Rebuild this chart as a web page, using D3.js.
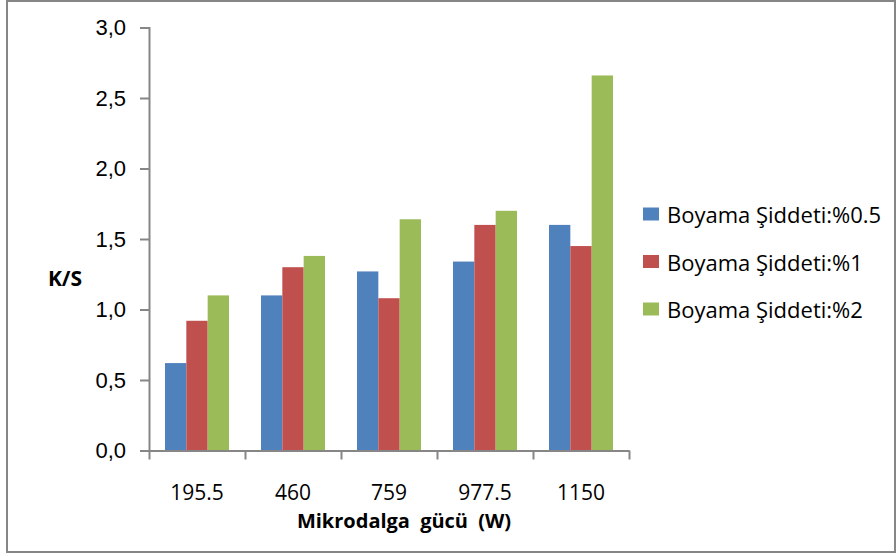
<!DOCTYPE html>
<html lang="tr">
<head>
<meta charset="UTF-8">
<title>K/S - Mikrodalga gücü</title>
<style>
  body { margin: 0; background: #fff; }
  svg { display: block; font-family: "Open Sans", "Noto Sans", sans-serif; }
</style>
</head>
<body>
<svg id="chart"></svg>
<script src="https://d3js.org/d3.v7.min.js"></script>
<script>
// chart data
const categories = ["195.5", "460", "759", "977.5", "1150"];
const seriesNames = ["Boyama Şiddeti:%0.5", "Boyama Şiddeti:%1", "Boyama Şiddeti:%2"];
const serie05 = [0.62, 1.10, 1.27, 1.34, 1.60];
const serie1 = [0.92, 1.30, 1.08, 1.60, 1.45];
const serie2 = [1.10, 1.38, 1.64, 1.70, 2.66];
const yTicks = [0, 0.5, 1.0, 1.5, 2.0, 2.5, 3.0];
const colors = ["#4F81BD", "#C0504D", "#9BBB59"];

const seriesValues = [serie05, serie1, serie2];

const width = 896;
const height = 556;
const plot = { left: 149, right: 629, top: 27.5, bottom: 450.5 };
const axisColor = "#868686";

const svg = d3.select("#chart")
    .attr("width", width)
    .attr("height", height);

// outer frame
svg.append("rect")
    .attr("x", 7).attr("y", 1)
    .attr("width", 888).attr("height", 551)
    .attr("fill", "#fff")
    .attr("stroke", axisColor)
    .attr("stroke-width", 2);

const x0 = d3.scaleBand()
    .domain(categories)
    .range([plot.left, plot.right]);

const x1 = d3.scaleBand()
    .domain(d3.range(seriesNames.length))
    .range([x0.bandwidth() / 6, x0.bandwidth() * 5 / 6]);

const y = d3.scaleLinear()
    .domain([0, 3])
    .range([plot.bottom, plot.top]);

// bars
const groups = svg.append("g")
    .selectAll("g")
    .data(categories)
    .join("g")
    .attr("transform", c => `translate(${x0(c)},0)`);

groups.selectAll("rect")
    .data((c, i) => seriesValues.map((vals, s) => ({ s, v: vals[i] })))
    .join("rect")
    .attr("x", d => x1(d.s))
    .attr("width", x1.bandwidth())
    .attr("y", d => y(d.v))
    .attr("height", d => y(0) - y(d.v))
    .attr("fill", d => colors[d.s]);

// y axis
const fmt = v => d3.format(".1f")(v).replace(".", ",");
const yAxis = svg.append("g")
    .attr("transform", `translate(${plot.left},0)`)
    .call(d3.axisLeft(y).tickValues(yTicks).tickFormat(fmt).tickSize(9).tickPadding(14));

// x axis: ticks on the category boundaries
const xEdges = categories.map(c => x0(c)).concat([plot.right]);
const xAxis = svg.append("g")
    .attr("transform", `translate(0,${plot.bottom})`)
    .call(d3.axisBottom(d3.scaleLinear().domain([plot.left, plot.right]).range([plot.left, plot.right]))
        .tickValues(xEdges).tickFormat("").tickSize(9).tickSizeOuter(0));

xAxis.selectAll(".tick text").remove();

[yAxis, xAxis].forEach(ax => {
    ax.select(".domain").attr("stroke", axisColor).attr("stroke-width", 2);
    ax.selectAll(".tick line").attr("stroke", axisColor).attr("stroke-width", 2);
});
yAxis.selectAll(".tick text")
    .attr("fill", "#000")
    .style("font-size", "22px");

// category labels
svg.append("g")
    .selectAll("text")
    .data(categories)
    .join("text")
    .attr("x", c => x0(c) + x0.bandwidth() / 2)
    .attr("y", 500)
    .attr("text-anchor", "middle")
    .style("font-size", "21px")
    .text(c => c);

// axis titles
svg.append("text")
    .attr("x", 404)
    .attr("y", 528)
    .attr("text-anchor", "middle")
    .style("font-size", "20px")
    .style("font-weight", "bold")
    .style("word-spacing", "5px")
    .text("Mikrodalga gücü (W)");

svg.append("text")
    .attr("x", 65)
    .attr("y", 278)
    .attr("text-anchor", "middle")
    .attr("dominant-baseline", "central")
    .style("font-size", "21px")
    .style("font-weight", "bold")
    .text("K/S");

// legend
const legend = svg.append("g")
    .selectAll("g")
    .data(seriesNames)
    .join("g")
    .attr("transform", (d, i) => `translate(643,${214 + i * 47.5})`);

legend.append("rect")
    .attr("x", 0).attr("y", -6.5)
    .attr("width", 16).attr("height", 13)
    .attr("fill", (d, i) => colors[i]);

legend.append("text")
    .attr("x", 24)
    .attr("y", 0)
    .attr("dominant-baseline", "central")
    .style("font-size", "22px")
    .text(d => d);
</script>
</body>
</html>
